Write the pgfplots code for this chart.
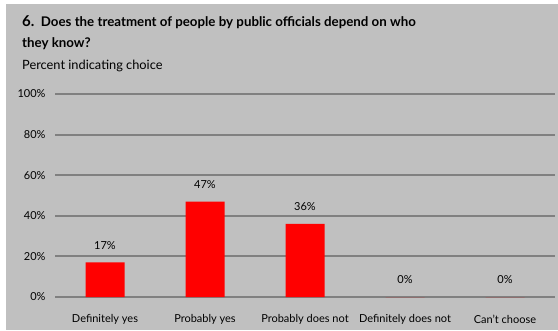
\documentclass[border=0pt]{standalone}
\usepackage{pgfplots}
\pgfplotsset{compat=1.18}
\usepackage{fontspec}
\setmainfont{Lato}
\definecolor{panel}{HTML}{C0C0C0}
\definecolor{gridc}{HTML}{808080}
\begin{document}
\begin{tikzpicture}[x=1pt,y=1pt]
\useasboundingbox (0,0) rectangle (558,330);
\fill[panel] (6,0) rectangle (558,326);
\node[anchor=base west,inner sep=0pt,font=\bfseries\fontsize{13.3}{15}\selectfont] at (22,303) {{\fontsize{15}{16}\selectfont 6.}\ \ Does the treatment of people by public officials depend on who};
\node[anchor=base west,inner sep=0pt,font=\bfseries\fontsize{13.3}{15}\selectfont] at (22,282) {they know?};
\node[anchor=base west,inner sep=0pt,font=\fontsize{12.8}{14}\selectfont] at (22,260) {Percent indicating choice};
\begin{axis}[
  at={(55pt,33pt)}, anchor=south west,
  scale only axis, width=500pt, height=203pt,
  xmin=-0.5, xmax=4.5, ymin=0, ymax=100,
  axis line style={draw=none},
  ytick={0,20,40,60,80,100},
  yticklabel={\pgfmathprintnumber{\tick}\%},
  ymajorgrids, grid style={gridc, line width=2pt},
  major tick length=0pt,
  xtick={0,1,2,3,4},
  xticklabels={Definitely yes, Probably yes, Probably does not, Definitely does not, Can't choose},
  xticklabel style={anchor=center, yshift=-22pt},
  yticklabel style={anchor=east, xshift=-6pt},
  tick label style={font=\fontsize{11}{13}\selectfont},
  /pgf/number format/assume math mode=true,
  nodes near coords={\pgfmathprintnumber{\pgfplotspointmeta}\%},
  nodes near coords style={anchor=center, yshift=17pt, font=\fontsize{11}{13}\selectfont},
  clip=false,
]
\addplot[ybar, bar width=39pt, fill=red, draw=none] coordinates {(0,17) (1,47) (2,36) (3,0) (4,0)};
\end{axis}
\end{tikzpicture}
\end{document}
